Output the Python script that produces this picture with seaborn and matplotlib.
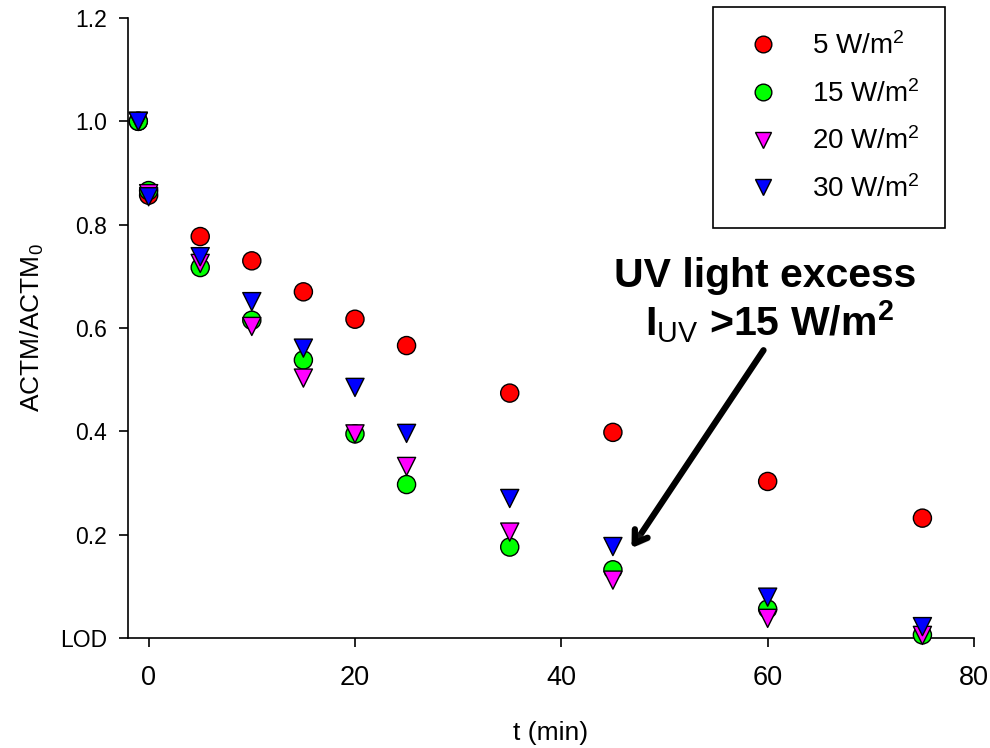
import numpy as np
import pandas as pd
import matplotlib
matplotlib.use("Agg")
import matplotlib.pyplot as plt
import matplotlib.patheffects as pe
from matplotlib.lines import Line2D
import seaborn as sns

# ---------------- data ----------------
time_min = [-1, 0, 5, 10, 15, 20, 25, 35, 45, 60, 75]
series_labels = ["5 W/m$^2$", "15 W/m$^2$", "20 W/m$^2$", "30 W/m$^2$"]
ratio_5 = [1.0, 0.857, 0.777, 0.730, 0.670, 0.617, 0.566, 0.474, 0.398, 0.303, 0.232]
ratio_15 = [1.0, 0.866, 0.717, 0.615, 0.538, 0.395, 0.297, 0.176, 0.132, 0.056, 0.006]
ratio_20 = [1.0, 0.860, 0.725, 0.603, 0.503, 0.395, 0.332, 0.205, 0.112, 0.038, 0.005]
ratio_30 = [1.0, 0.854, 0.738, 0.651, 0.561, 0.485, 0.396, 0.270, 0.177, 0.079, 0.022]
y_ticks = [0.0, 0.2, 0.4, 0.6, 0.8, 1.0, 1.2]
y_tick_labels = ["LOD", "0.2", "0.4", "0.6", "0.8", "1.0", "1.2"]
x_ticks = [0, 20, 40, 60, 80]

colors = ["#FF0000", "#00FF00", "#FF00FF", "#0000FF"]
markers = ["o", "o", "v", "v"]

df = pd.concat(
    [pd.DataFrame({"t": time_min, "ratio": vals, "series": lab})
     for lab, vals in zip(series_labels, [ratio_5, ratio_15, ratio_20, ratio_30])],
    ignore_index=True,
)

# ---------------- style ----------------
sns.set_style("ticks")
plt.rcParams["font.family"] = ["Liberation Sans", "DejaVu Sans"]
plt.rcParams["mathtext.fontset"] = "custom"
plt.rcParams["mathtext.rm"] = "Liberation Sans"
plt.rcParams["mathtext.it"] = "Liberation Sans:italic"
plt.rcParams["mathtext.bf"] = "Liberation Sans:bold"
for k in ["text.color", "axes.labelcolor", "xtick.color", "ytick.color", "axes.edgecolor"]:
    plt.rcParams[k] = "black"

W, H = 990, 748
fig = plt.figure(figsize=(W / 100, H / 100), dpi=100)
ax = fig.add_axes([128 / W, 1 - 638 / H, (974 - 128) / W, (638 - 18) / H])

sns.scatterplot(
    data=df, x="t", y="ratio", hue="series", style="series",
    palette=colors, markers=dict(zip(series_labels, markers)),
    hue_order=series_labels, style_order=series_labels,
    s=170, edgecolor="black", linewidth=1.0, legend=False,
    ax=ax, zorder=3, clip_on=False,
)

ax.set_xlim(-2, 80)
ax.set_ylim(0, 1.2)
ax.set_xticks(x_ticks)
ax.set_yticks(y_ticks)
ax.set_yticklabels(y_tick_labels)
for s in ["top", "right"]:
    ax.spines[s].set_visible(False)
for s in ["left", "bottom"]:
    ax.spines[s].set_linewidth(1.2)
ax.tick_params(direction="out", length=6.5, width=1.2)
ax.tick_params(axis="x", labelsize=19.5, pad=13)
ax.tick_params(axis="y", labelsize=16.5, pad=8.5)

ax.set_xlabel("t (min)", fontsize=19)
ax.set_ylabel("ACTM/ACTM$_0$", fontsize=19)
ax.xaxis.set_label_coords(0.5, (638 - 721) / 620)
ax.yaxis.set_label_coords((46 - 128) / 846, 0.5)

# legend
handles = [
    Line2D([], [], linestyle="none", marker=m, markersize=(12 if m == "o" else 11),
           markerfacecolor=c, markeredgecolor="black", markeredgewidth=1.0)
    for m, c in zip(markers, colors)
]
leg = ax.legend(
    handles, series_labels, loc="upper left",
    bbox_to_anchor=(713 / W, 1 - 7 / H), bbox_transform=fig.transFigure,
    borderaxespad=0, frameon=True, fancybox=False, fontsize=20,
    labelspacing=0.72, borderpad=0.9, handletextpad=0.86, handlelength=1.8,
)
leg.get_frame().set_edgecolor("black")
leg.get_frame().set_linewidth(1.2)
leg.get_frame().set_alpha(1)

# annotation
ax.text(59.75, 0.700, "UV light excess", ha="center", va="center",
        fontsize=29.5, fontweight="bold")
ax.text(60.2, 0.612, "I$_{\\mathrm{UV}}$ >15 W/m$^{\\mathbf{2}}$", ha="center", va="center",
        fontsize=29.5, fontweight="bold")
ax.annotate(
    "", xy=(46.8, 0.174), xytext=(59.6, 0.557),
    arrowprops=dict(arrowstyle="->,head_length=0.85,head_width=0.55", lw=4.5, color="black",
                    shrinkA=0, shrinkB=0,
                    path_effects=[pe.SimplePatchShadow(offset=(2, -2), alpha=0.3), pe.Normal()]),
)

fig.savefig("out.png", dpi=100)
